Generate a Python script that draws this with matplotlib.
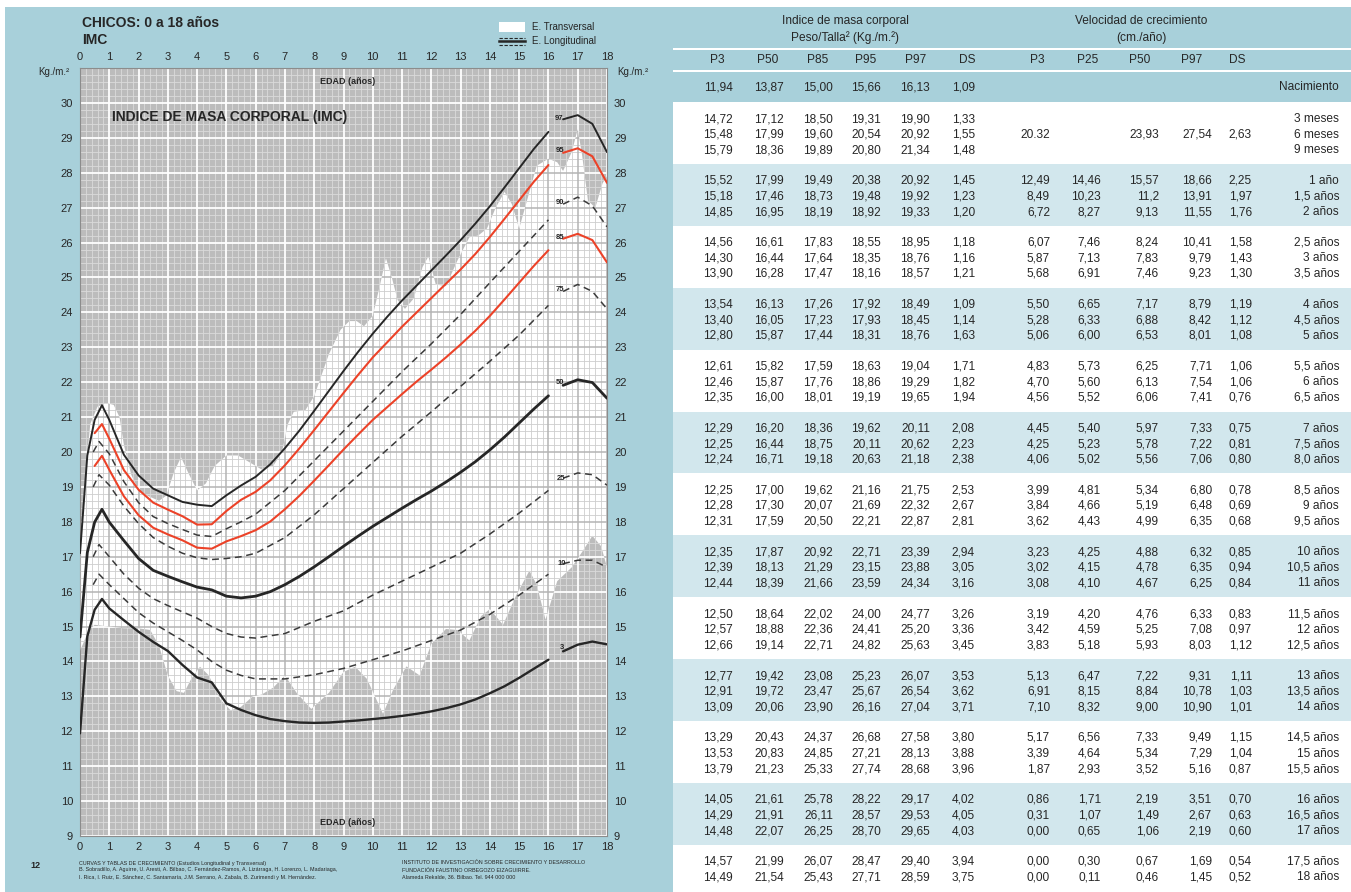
import numpy as np
import matplotlib
matplotlib.use("Agg")
import matplotlib.pyplot as plt
from matplotlib import font_manager
from matplotlib.patches import Rectangle
from matplotlib.lines import Line2D
from matplotlib.collections import LineCollection

W, H = 1351, 892
PAGE = "#a8d0da"
BAND = "#d2e7ed"
GREY = "#bcbcbc"
RED = "#ec4228"
INK = "#262626"

have = {f.name for f in font_manager.fontManager.ttflist}
narrow = "Liberation Sans Narrow" in have
COND = "Liberation Sans Narrow" if narrow else "Liberation Sans"
plt.rcParams["font.family"] = [COND, "DejaVu Sans"]

# ---------------- table data ----------------
row_labels = ["Nacimiento", "3 meses", "6 meses", "9 meses", "1 año", "1,5 años", "2 años",
              "2,5 años", "3 años", "3,5 años", "4 años", "4,5 años", "5 años",
              "5,5 años", "6 años", "6,5 años", "7 años", "7,5 años", "8,0 años",
              "8,5 años", "9 años", "9,5 años", "10 años", "10,5 años", "11 años",
              "11,5 años", "12 años", "12,5 años", "13 años", "13,5 años", "14 años",
              "14,5 años", "15 años", "15,5 años", "16 años", "16,5 años", "17 años",
              "17,5 años", "18 años"]
ages = [0, 0.25, 0.5, 0.75] + [1 + 0.5 * i for i in range(35)]

imc_p3 = [11.94, 14.72, 15.48, 15.79, 15.52, 15.18, 14.85, 14.56, 14.30, 13.90, 13.54, 13.40, 12.80,
          12.61, 12.46, 12.35, 12.29, 12.25, 12.24, 12.25, 12.28, 12.31, 12.35, 12.39, 12.44,
          12.50, 12.57, 12.66, 12.77, 12.91, 13.09, 13.29, 13.53, 13.79, 14.05, 14.29, 14.48,
          14.57, 14.49]
imc_p50 = [13.87, 17.12, 17.99, 18.36, 17.99, 17.46, 16.95, 16.61, 16.44, 16.28, 16.13, 16.05, 15.87,
           15.82, 15.87, 16.00, 16.20, 16.44, 16.71, 17.00, 17.30, 17.59, 17.87, 18.13, 18.39,
           18.64, 18.88, 19.14, 19.42, 19.72, 20.06, 20.43, 20.83, 21.23, 21.61, 21.91, 22.07,
           21.99, 21.54]
imc_p85 = [15.00, 18.50, 19.60, 19.89, 19.49, 18.73, 18.19, 17.83, 17.64, 17.47, 17.26, 17.23, 17.44,
           17.59, 17.76, 18.01, 18.36, 18.75, 19.18, 19.62, 20.07, 20.50, 20.92, 21.29, 21.66,
           22.02, 22.36, 22.71, 23.08, 23.47, 23.90, 24.37, 24.85, 25.33, 25.78, 26.11, 26.25,
           26.07, 25.43]
imc_p95 = [15.66, 19.31, 20.54, 20.80, 20.38, 19.48, 18.92, 18.55, 18.35, 18.16, 17.92, 17.93, 18.31,
           18.63, 18.86, 19.19, 19.62, 20.11, 20.63, 21.16, 21.69, 22.21, 22.71, 23.15, 23.59,
           24.00, 24.41, 24.82, 25.23, 25.67, 26.16, 26.68, 27.21, 27.74, 28.22, 28.57, 28.70,
           28.47, 27.71]
imc_p97 = [16.13, 19.90, 20.92, 21.34, 20.92, 19.92, 19.33, 18.95, 18.76, 18.57, 18.49, 18.45, 18.76,
           19.04, 19.29, 19.65, 20.11, 20.62, 21.18, 21.75, 22.32, 22.87, 23.39, 23.88, 24.34,
           24.77, 25.20, 25.63, 26.07, 26.54, 27.04, 27.58, 28.13, 28.68, 29.17, 29.53, 29.65,
           29.40, 28.59]
imc_ds = [1.09, 1.33, 1.55, 1.48, 1.45, 1.23, 1.20, 1.18, 1.16, 1.21, 1.09, 1.14, 1.63,
          1.71, 1.82, 1.94, 2.08, 2.23, 2.38, 2.53, 2.67, 2.81, 2.94, 3.05, 3.16,
          3.26, 3.36, 3.45, 3.53, 3.62, 3.71, 3.80, 3.88, 3.96, 4.02, 4.05, 4.03,
          3.94, 3.75]

vel_p3 = ["", "", "20.32", "", "12,49", "8,49", "6,72", "6,07", "5,87", "5,68", "5,50", "5,28", "5,06",
          "4,83", "4,70", "4,56", "4,45", "4,25", "4,06", "3,99", "3,84", "3,62", "3,23", "3,02",
          "3,08", "3,19", "3,42", "3,83", "5,13", "6,91", "7,10", "5,17", "3,39", "1,87", "0,86",
          "0,31", "0,00", "0,00", "0,00"]
vel_p25 = ["", "", "", "", "14,46", "10,23", "8,27", "7,46", "7,13", "6,91", "6,65", "6,33", "6,00",
           "5,73", "5,60", "5,52", "5,40", "5,23", "5,02", "4,81", "4,66", "4,43", "4,25", "4,15",
           "4,10", "4,20", "4,59", "5,18", "6,47", "8,15", "8,32", "6,56", "4,64", "2,93", "1,71",
           "1,07", "0,65", "0,30", "0,11"]
vel_p50 = ["", "", "23,93", "", "15,57", "11,2", "9,13", "8,24", "7,83", "7,46", "7,17", "6,88", "6,53",
           "6,25", "6,13", "6,06", "5,97", "5,78", "5,56", "5,34", "5,19", "4,99", "4,88", "4,78",
           "4,67", "4,76", "5,25", "5,93", "7,22", "8,84", "9,00", "7,33", "5,34", "3,52", "2,19",
           "1,49", "1,06", "0,67", "0,46"]
vel_p97 = ["", "", "27,54", "", "18,66", "13,91", "11,55", "10,41", "9,79", "9,23", "8,79", "8,42", "8,01",
           "7,71", "7,54", "7,41", "7,33", "7,22", "7,06", "6,80", "6,48", "6,35", "6,32", "6,35",
           "6,25", "6,33", "7,08", "8,03", "9,31", "10,78", "10,90", "9,49", "7,29", "5,16", "3,51",
           "2,67", "2,19", "1,69", "1,45"]
vel_ds = ["", "", "2,63", "", "2,25", "1,97", "1,76", "1,58", "1,43", "1,30", "1,19", "1,12", "1,08",
          "1,06", "1,06", "0,76", "0,75", "0,81", "0,80", "0,78", "0,69", "0,68", "0,85", "0,94",
          "0,84", "0,83", "0,97", "1,12", "1,11", "1,03", "1,01", "1,15", "1,04", "0,87", "0,70",
          "0,63", "0,60", "0,54", "0,52"]

# start of the drawn curves at birth, as read on the chart
chart_birth_p97 = 17.1
chart_birth_p50 = 14.7

# dashed (longitudinal) percentiles
dash_ages = [0.45, 0.65, 1, 1.5, 2, 2.5, 3, 3.5, 4, 4.5, 5, 5.5, 6, 7, 8, 9, 10, 11, 12, 13,
             14, 15, 16, 16.5, 17, 17.5, 18]
p90 = [20.0, 20.3, 19.95, 19.15, 18.55, 18.15, 17.95, 17.78, 17.62, 17.58, 17.8, 18.0, 18.22,
       18.9, 19.75, 20.6, 21.45, 22.3, 23.1, 23.94, 24.85, 25.75, 26.65, 27.1, 27.3, 27.05, 26.45]
p75 = [19.0, 19.35, 19.05, 18.45, 17.95, 17.55, 17.3, 17.1, 16.97, 16.92, 16.95, 17.0, 17.1,
       17.55, 18.2, 18.95, 19.7, 20.45, 21.15, 21.88, 22.6, 23.35, 24.2, 24.6, 24.8, 24.6, 24.1]
p25 = [17.0, 17.35, 17.0, 16.5, 16.1, 15.8, 15.6, 15.42, 15.24, 15.0, 14.8, 14.7, 14.67,
       14.8, 15.15, 15.45, 15.9, 16.3, 16.7, 17.1, 17.65, 18.25, 18.9, 19.25, 19.4, 19.35, 19.05]
p10 = [16.2, 16.5, 16.2, 15.8, 15.4, 15.1, 14.85, 14.6, 14.33, 14.0, 13.75, 13.6, 13.5,
       13.5, 13.62, 13.8, 14.05, 14.3, 14.6, 14.9, 15.35, 15.9, 16.5, 16.8, 16.9, 16.9, 16.7]

# white band (E. Transversal)
trans_up_age = [0.0, 0.15, 0.35, 0.6, 0.9, 1.15, 1.35, 1.5, 1.75, 2.0, 2.3, 2.7, 2.95, 3.2, 3.45,
                3.7, 4.0, 4.3, 4.6, 5.0, 5.4, 5.8, 6.2, 6.6, 6.9, 7.1, 7.3, 7.7, 8.0, 8.5,
                8.9, 9.2, 9.45, 9.7, 10.0, 10.25, 10.45, 10.65, 10.85, 11.1, 11.4, 11.7, 11.9, 12.15,
                12.5, 12.9, 13.3, 13.6, 13.9, 14.2, 14.5, 14.75, 15.0, 15.3, 15.6, 16.0, 16.3, 16.5,
                16.8, 17.0, 17.15, 17.35, 17.6, 17.85, 18.0]
trans_up_val = [16.9, 19.0, 20.8, 21.3, 21.4, 21.35, 21.0, 20.2, 19.35, 18.9, 18.75, 18.6, 18.75,
                19.4, 19.85, 19.4, 18.9, 19.1, 19.6, 19.9, 19.9, 19.7, 19.5, 19.6, 20.0, 20.8,
                21.15, 21.2, 21.6, 22.8, 23.5, 23.75, 23.75, 23.6, 23.9, 24.8, 25.55, 25.0, 24.35,
                24.1, 24.4, 25.3, 25.6, 24.8, 24.75, 25.5, 26.15, 26.2, 26.4, 27.0, 27.45, 27.1,
                26.4, 27.3, 28.2, 28.4, 28.3, 28.05, 28.6, 29.25, 28.5, 27.2, 27.0, 27.7, 27.9]
trans_lo_age = [0.0, 0.3, 0.5, 1.0, 1.5, 2.0, 2.4, 2.7, 3.0, 3.3, 3.55, 3.8, 4.1, 4.4, 4.8,
                5.15, 5.5, 5.9, 6.2, 6.6, 7.0, 7.4, 7.9, 8.5, 9.0, 9.4, 9.8, 10.35, 10.7, 11.15,
                11.6, 12.0, 12.5, 12.9, 13.3, 13.7, 14.0, 14.45, 14.9, 15.35, 15.6, 15.9, 16.3,
                16.8, 17.2, 17.5, 17.8, 18.0]
trans_lo_val = [14.3, 14.9, 15.05, 15.0, 14.95, 14.95, 14.9, 14.45, 13.6, 13.15, 13.1, 13.5, 13.85,
                13.6, 12.9, 12.6, 12.7, 13.0, 13.05, 13.25, 13.6, 13.1, 12.64, 13.1, 13.7, 13.85,
                13.5, 12.5, 13.2, 13.86, 13.6, 14.5, 14.93, 14.9, 14.6, 15.3, 15.5, 15.05, 15.9,
                16.6, 16.2, 15.2, 16.3, 16.7, 17.2, 17.6, 17.3, 16.7]

curve_labels = ["97", "95", "90", "85", "75", "50", "25", "10", "3"]
label_pos = [(16.35, 29.55), (16.38, 28.63), (16.38, 27.15), (16.38, 26.15), (16.38, 24.66),
             (16.38, 21.98), (16.42, 19.25), (16.45, 16.8), (16.45, 14.41)]

bmi_cols = ["P3", "P50", "P85", "P95", "P97", "DS"]
vel_cols = ["P3", "P25", "P50", "P97", "DS"]


def fx(x):
    return x / W


def fy(y):
    return 1 - y / H


def rect(x0, y0, x1, y1, color, z=-5):
    fig.add_artist(Rectangle((fx(x0), fy(y1)), (x1 - x0) / W, (y1 - y0) / H,
                             transform=fig.transFigure, facecolor=color,
                             edgecolor="none", zorder=z))


def txt(x, y, s, **kw):
    kw.setdefault("color", INK)
    kw.setdefault("va", "center")
    fig.text(fx(x), fy(y), s, **kw)


fig = plt.figure(figsize=(W / 100, H / 100), dpi=100)
fig.patch.set_facecolor(PAGE)
rect(0, 0, W, 7, "white")
rect(0, 0, 5, H, "white")

# ---------------- chart ----------------
ax = fig.add_axes([fx(80), fy(836), 527 / W, 768 / H])
ax.set_xlim(0, 18)
ax.set_ylim(9, 31)
ax.set_facecolor(GREY)

gx = np.round(np.arange(0, 18.01, 0.2), 1)
gy = np.round(np.arange(9, 31.01, 0.2), 1)


def grid_segments(major):
    segs = []
    for x in gx:
        if (abs(x - round(x)) < 1e-6) == major:
            segs.append([(x, 9), (x, 31)])
    for y in gy:
        if (abs(y - round(y)) < 1e-6) == major:
            segs.append([(0, y), (18, y)])
    return segs


ax.add_collection(LineCollection(grid_segments(False), colors="#dadada", lw=0.6, zorder=1))
ax.add_collection(LineCollection(grid_segments(True), colors="white", lw=1.3, zorder=1))

poly_x = trans_up_age + trans_lo_age[::-1]
poly_y = trans_up_val + trans_lo_val[::-1]
band = ax.fill(poly_x, poly_y, color="white", lw=0, zorder=2)[0]

lc_min = LineCollection(grid_segments(False), colors="#cdcdcd", lw=0.6, zorder=3)
lc_maj = LineCollection(grid_segments(True), colors="#b4b4b4", lw=1.1, zorder=3)
for lc in (lc_min, lc_maj):
    ax.add_collection(lc)
    lc.set_clip_path(band)


def draw_curve(xs, ys, color, lw, dashed=False):
    xs = np.asarray(xs, float)
    ys = np.asarray(ys, float)
    kw = dict(color=color, lw=lw, zorder=5, solid_capstyle="round")
    if dashed:
        kw["dashes"] = (4.5, 3)
    a = xs <= 16
    b = xs >= 16.5
    ax.plot(xs[a], ys[a], **kw)
    ax.plot(xs[b], ys[b], **kw)


draw_curve(ages, [chart_birth_p97] + imc_p97[1:], INK, 1.4)
draw_curve(ages[2:], imc_p95[2:], RED, 1.5)
draw_curve(dash_ages, p90, "#3a3a3a", 1.1, dashed=True)
draw_curve(ages[2:], imc_p85[2:], RED, 1.5)
draw_curve(dash_ages, p75, "#3a3a3a", 1.1, dashed=True)
draw_curve(ages, [chart_birth_p50] + imc_p50[1:], INK, 2.0)
draw_curve(dash_ages, p25, "#3a3a3a", 1.1, dashed=True)
draw_curve(dash_ages, p10, "#3a3a3a", 1.1, dashed=True)
draw_curve(ages, imc_p3, INK, 1.7)

for lab, (x, y) in zip(curve_labels, label_pos):
    ax.text(x, y, lab, fontsize=5.5, ha="center", va="center", color=INK,
            fontweight="bold", zorder=6)

ax.text(1.1, 29.6, "INDICE DE MASA CORPORAL (IMC)", fontsize=10, fontweight="bold",
        color=INK, va="center", zorder=6)
ax.text(9.15, 30.6, "EDAD (años)", fontsize=6.5, fontweight="bold", color=INK,
        ha="center", va="center", zorder=6)
ax.text(9.15, 9.4, "EDAD (años)", fontsize=6.5, fontweight="bold", color=INK,
        ha="center", va="center", zorder=6)

ax.set_xticks(range(19))
ax.set_yticks(range(9, 31))
ax.tick_params(axis="both", length=0, labelsize=8, labelcolor=INK)
ax.tick_params(axis="x", labeltop=True, pad=4)
ax.tick_params(axis="y", labelright=True, pad=5)
for sp in ax.spines.values():
    sp.set_color("#8c8c8c")
    sp.set_linewidth(0.8)

txt(82, 23, "CHICOS: 0 a 18 años", fontsize=10, fontweight="bold")
txt(82, 40, "IMC", fontsize=10, fontweight="bold")
txt(54, 72, "Kg./m.²", fontsize=7, ha="center")
txt(633, 72, "Kg./m.²", fontsize=7, ha="center")

rect(499, 22, 525, 32, "white", z=2)
txt(532, 27, "E. Transversal", fontsize=7)
for yy, st, lw in ((37.5, (0, (3, 1.5)), 0.8), (41, "-", 1.8), (44.5, (0, (3, 1.5)), 0.8)):
    fig.add_artist(Line2D([fx(499), fx(525)], [fy(yy), fy(yy)], transform=fig.transFigure,
                          color=INK, lw=lw, linestyle=st))
txt(532, 41, "E. Longitudinal", fontsize=7)

txt(35, 865, "12", fontsize=6.5, fontweight="bold", ha="center")
foot_left = ["CURVAS Y TABLAS DE CRECIMIENTO (Estudios Longitudinal y Transversal)",
             "B. Sobradillo, A. Aguirre, U. Aresti, A. Bilbao, C. Fernández-Ramos, A. Lizárraga, H. Lorenzo, L. Madariaga,",
             "I. Rica, I. Ruiz, E. Sánchez, C. Santamaría, J.M. Serrano, A. Zabala, B. Zurimendi y M. Hernández."]
foot_right = ["INSTITUTO DE INVESTIGACIÓN SOBRE CRECIMIENTO Y DESARROLLO",
              "FUNDACIÓN FAUSTINO ORBEGOZO EIZAGUIRRE.",
              "Alameda Rekalde, 36. Bilbao. Tel. 944 000 000"]
for i, s in enumerate(foot_left):
    txt(79, 863 + 7 * i, s, fontsize=3.9)
for i, s in enumerate(foot_right):
    txt(402, 863 + 7 * i, s, fontsize=3.9)

# ---------------- table ----------------
rect(673, 48, W, 50, "white")
rect(673, 70, W, 72, "white")
for g in range(13):
    y0 = 102 + 61.9 * g
    rect(673, y0, W, min(y0 + 61.9, H), "white" if g % 2 == 0 else BAND)

tsize = 10 if narrow else 8.6
txt(845, 21, "Indice de masa corporal", fontsize=tsize)
txt(845, 38, "Peso/Talla² (Kg./m.²)", fontsize=tsize)
txt(1141, 21, "Velocidad de crecimiento", fontsize=tsize)
txt(1141, 38, "(cm./año)", fontsize=tsize)
for t in fig.texts[-4:]:
    t.set_ha("center")

hdr_x = [717, 768, 818, 866, 916, 967, 1037, 1088, 1140, 1192, 1237]
for x, s in zip(hdr_x, bmi_cols + vel_cols):
    txt(x, 60, s, fontsize=tsize, ha="center")

bmi_x = [733, 784, 833, 881, 930, 975]
vel_x = [1050, 1101, 1159, 1212, 1252]
bmi_data = [imc_p3, imc_p50, imc_p85, imc_p95, imc_p97, imc_ds]
vel_data = [vel_p3, vel_p25, vel_p50, vel_p97, vel_ds]

for i, lab in enumerate(row_labels):
    if i == 0:
        y = 87
    else:
        y = 119 + 61.9 * ((i - 1) // 3) + 15.6 * ((i - 1) % 3)
    for x, col in zip(bmi_x, bmi_data):
        txt(x, y, f"{col[i]:.2f}".replace(".", ","), fontsize=tsize, ha="right")
    for x, col in zip(vel_x, vel_data):
        if col[i]:
            txt(x, y, col[i], fontsize=tsize, ha="right")
    txt(1339, y, lab, fontsize=tsize, ha="right")

fig.savefig("out.png", dpi=100, facecolor=fig.get_facecolor())
